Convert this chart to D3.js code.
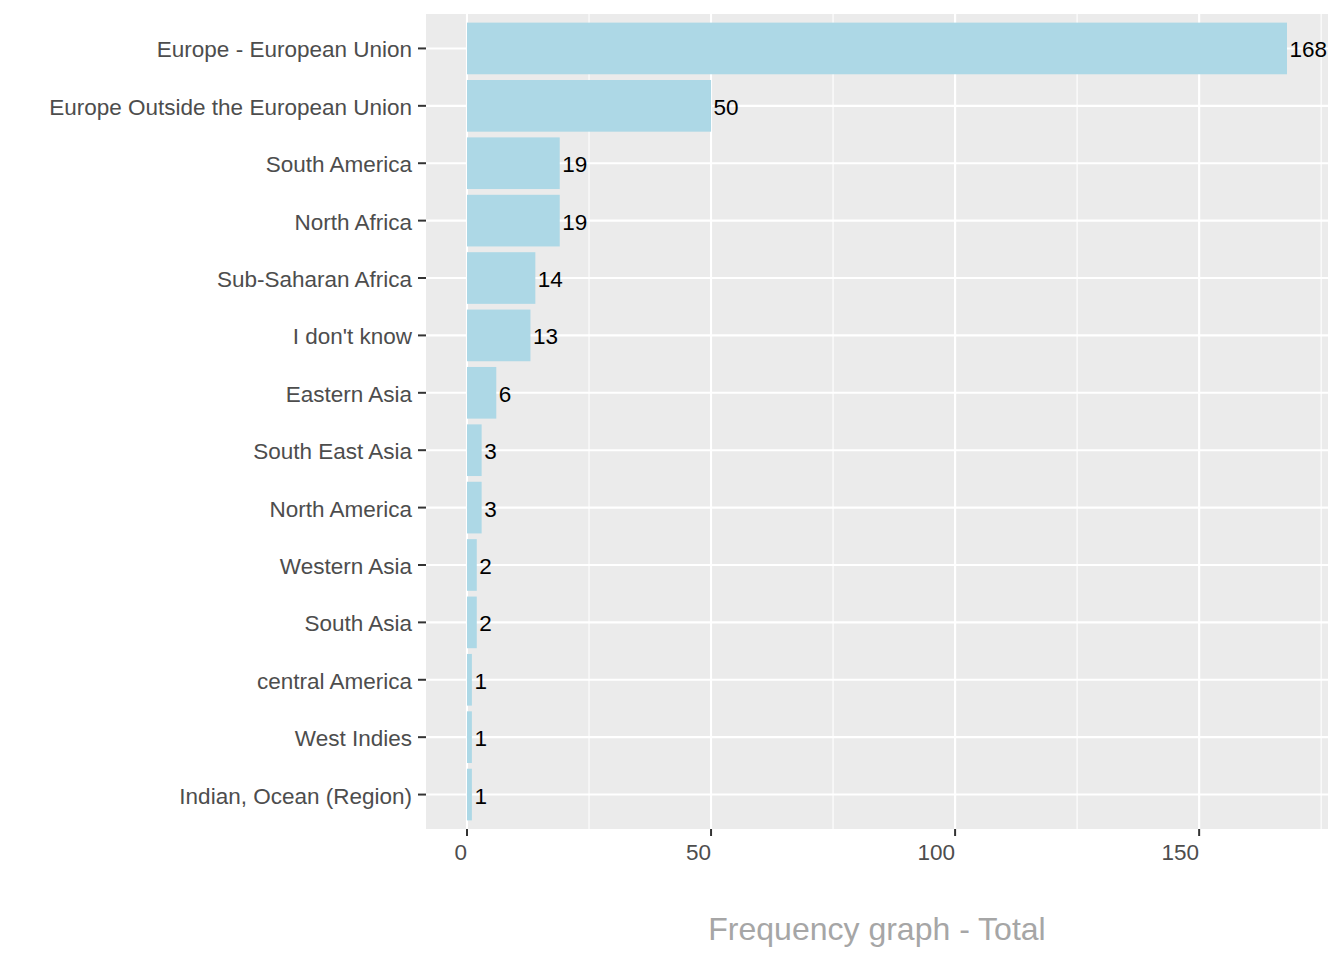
<!DOCTYPE html>
<html>
<head>
<meta charset="utf-8">
<script src="https://cdn.jsdelivr.net/npm/d3@7"></script>
<style>
  html, body { margin: 0; padding: 0; background: #fff; }
  svg { display: block; font-family: "Liberation Sans", Arial, sans-serif; }
</style>
</head>
<body>
<div id="chart"></div>
<script>
// categories top to bottom, with counts
const regions = [
  "Europe - European Union",
  "Europe Outside the European Union",
  "South America",
  "North Africa",
  "Sub-Saharan Africa",
  "I don't know",
  "Eastern Asia",
  "South East Asia",
  "North America",
  "Western Asia",
  "South Asia",
  "central America",
  "West Indies",
  "Indian, Ocean (Region)"
];
const counts = [168, 50, 19, 19, 14, 13, 6, 3, 3, 2, 2, 1, 1, 1];
const xTicks = [0, 50, 100, 150];
const xMinor = [25, 75, 125, 175];
const title = "Frequency graph - Total";

const W = 1344, H = 960;
const panel = { left: 426, right: 1328, top: 14, bottom: 829 };
const fs = 22.5;

const svg = d3.select("#chart").append("svg")
  .attr("width", W).attr("height", H);

// ggplot-style expansion: 5% continuous, 0.6 units discrete
const maxV = d3.max(counts);
const pad = maxV * 0.05;
const x = d3.scaleLinear().domain([-pad, maxV + pad]).range([panel.left, panel.right]);

const n = regions.length;
const y = d3.scaleLinear().domain([0.4, n + 0.6]).range([panel.top, panel.bottom]);
const barH = y(1.9) - y(1); // 0.9 of a unit
const pos = (i) => y(i + 1);

// panel background
svg.append("rect")
  .attr("x", panel.left).attr("y", panel.top)
  .attr("width", panel.right - panel.left)
  .attr("height", panel.bottom - panel.top)
  .attr("fill", "#EBEBEB");

// minor gridlines
svg.append("g").selectAll("line").data(xMinor).enter().append("line")
  .attr("x1", (d) => x(d)).attr("x2", (d) => x(d))
  .attr("y1", panel.top).attr("y2", panel.bottom)
  .attr("stroke", "#fff").attr("stroke-width", 1.1);

// major gridlines
svg.append("g").selectAll("line").data(xTicks).enter().append("line")
  .attr("x1", (d) => x(d)).attr("x2", (d) => x(d))
  .attr("y1", panel.top).attr("y2", panel.bottom)
  .attr("stroke", "#fff").attr("stroke-width", 2.1);

svg.append("g").selectAll("line").data(regions).enter().append("line")
  .attr("x1", panel.left).attr("x2", panel.right)
  .attr("y1", (d, i) => pos(i)).attr("y2", (d, i) => pos(i))
  .attr("stroke", "#fff").attr("stroke-width", 2.1);

// bars
svg.append("g").selectAll("rect").data(counts).enter().append("rect")
  .attr("x", x(0))
  .attr("y", (d, i) => pos(i) - barH / 2)
  .attr("width", (d) => x(d) - x(0))
  .attr("height", barH)
  .attr("fill", "#ADD8E6");

// value labels
svg.append("g").selectAll("text").data(counts).enter().append("text")
  .attr("x", (d) => x(d) + 2.5)
  .attr("y", (d, i) => pos(i))
  .attr("dy", "0.4em")
  .attr("font-size", fs)
  .attr("fill", "#000")
  .text((d) => d);

// y axis
const yAxis = svg.append("g");
yAxis.selectAll("line").data(regions).enter().append("line")
  .attr("x1", panel.left - 8).attr("x2", panel.left)
  .attr("y1", (d, i) => pos(i)).attr("y2", (d, i) => pos(i))
  .attr("stroke", "#333").attr("stroke-width", 2);
yAxis.selectAll("text").data(regions).enter().append("text")
  .attr("x", panel.left - 14)
  .attr("y", (d, i) => pos(i))
  .attr("dy", "0.4em")
  .attr("text-anchor", "end")
  .attr("font-size", fs)
  .attr("fill", "#4D4D4D")
  .text((d) => d);

// x axis
const xAxis = svg.append("g");
xAxis.selectAll("line").data(xTicks).enter().append("line")
  .attr("x1", (d) => x(d)).attr("x2", (d) => x(d))
  .attr("y1", panel.bottom).attr("y2", panel.bottom + 7)
  .attr("stroke", "#333").attr("stroke-width", 2);
xAxis.selectAll("text").data(xTicks).enter().append("text")
  .attr("x", (d) => x(d))
  .attr("y", panel.bottom + 31)
  .attr("text-anchor", "end")
  .attr("font-size", fs)
  .attr("fill", "#4D4D4D")
  .text((d) => d);

// axis title
svg.append("text")
  .attr("x", (panel.left + panel.right) / 2)
  .attr("y", 940)
  .attr("text-anchor", "middle")
  .attr("font-size", 32)
  .attr("fill", "#A6A6A6")
  .text(title);
</script>
</body>
</html>
